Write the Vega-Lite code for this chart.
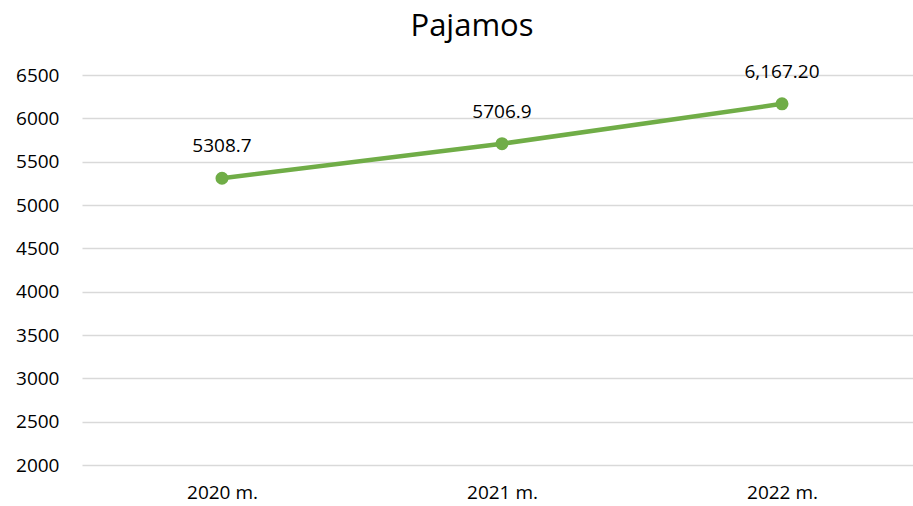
{
  "$schema": "https://vega.github.io/schema/vega-lite/v6.json",
  "autosize": {"type": "none"},
  "width": 840,
  "height": 390,
  "padding": {"left": 82, "top": 75, "right": 0, "bottom": 41},
  "background": "white",
  "title": {
    "text": "Pajamos",
    "font": "Open Sans",
    "fontSize": 31,
    "fontWeight": "normal",
    "color": "#000000",
    "anchor": "middle",
    "dx": -30,
    "offset": 20
  },
  "data": {
    "values": [
      {"year": "2020 m.", "value": 5308.7, "label": "5308.7"},
      {"year": "2021 m.", "value": 5706.9, "label": "5706.9"},
      {"year": "2022 m.", "value": 6167.2, "label": "6,167.20"}
    ]
  },
  "config": {
    "view": {"stroke": null},
    "axis": {
      "labelFont": "Open Sans",
      "labelFontSize": 19,
      "labelColor": "#000000",
      "domain": false,
      "ticks": false,
      "title": null
    }
  },
  "encoding": {
    "x": {
      "field": "year",
      "type": "ordinal",
      "scale": {"type": "point", "padding": 0.5},
      "axis": {"labelAngle": 0, "labelPadding": 18, "grid": false}
    },
    "y": {
      "field": "value",
      "type": "quantitative",
      "scale": {"domain": [2000, 6500], "nice": false, "zero": false},
      "axis": {
        "values": [2000, 2500, 3000, 3500, 4000, 4500, 5000, 5500, 6000, 6500],
        "format": "d",
        "labelPadding": 23,
        "grid": true,
        "gridColor": "#d9d9d9",
        "gridWidth": 1.5
      }
    }
  },
  "layer": [
    {"mark": {"type": "line", "color": "#70AD47", "strokeWidth": 4.5}},
    {"mark": {"type": "point", "filled": true, "opacity": 1, "color": "#70AD47", "size": 170}},
    {
      "mark": {"type": "text", "dy": -32, "font": "Open Sans", "fontSize": 19, "color": "#000000"},
      "encoding": {"text": {"field": "label"}}
    }
  ]
}
